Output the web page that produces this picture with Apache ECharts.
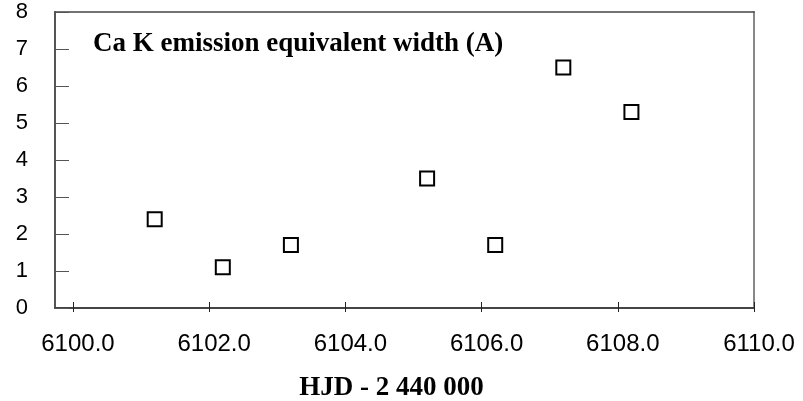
<!DOCTYPE html>
<html>
<head>
<meta charset="utf-8">
<script src="https://cdn.jsdelivr.net/npm/echarts@6/dist/echarts.min.js"></script>
<style>
html, body { margin: 0; padding: 0; background: #fff; }
#main { width: 803px; height: 401px; }
</style>
</head>
<body>
<div id="main"></div>
<script>
var myChart = echarts.init(document.getElementById('main'));

// HJD - 2 440 000
var hjd = [6101.2, 6102.2, 6103.2, 6105.2, 6106.2, 6107.2, 6108.2];
// Ca K emission equivalent width (A)
var eqWidth = [2.4, 1.1, 1.7, 3.5, 1.7, 6.5, 5.3];
var xTicks = [6100, 6102, 6104, 6106, 6108, 6110];

var points = [];
for (var i = 0; i < hjd.length; i++) {
    points.push([hjd[i], eqWidth[i]]);
}

var xMin = 6099.736, xMax = 6110;

option = {
    backgroundColor: '#fff',
    animation: false,
    grid: {
        left: 55,
        right: 49,
        top: 12,
        bottom: 93,
        containLabel: false,
        outerBoundsMode: 'none'
    },
    title: {
        text: 'Ca K emission equivalent width (A)',
        left: 93,
        top: 31,
        padding: 0,
        textStyle: {
            fontFamily: 'Liberation Serif',
            fontWeight: 'bold',
            fontSize: 27,
            color: '#000'
        }
    },
    xAxis: [{
        type: 'value',
        position: 'bottom',
        min: xMin,
        max: xMax,
        name: 'HJD - 2 440 000',
        nameLocation: 'middle',
        nameGap: 67,
        nameTextStyle: {
            fontFamily: 'Liberation Serif',
            fontWeight: 'bold',
            fontSize: 27,
            color: '#000',
            padding: [0, 26, 0, 0]
        },
        splitLine: { show: false },
        axisLine: { lineStyle: { color: '#444', width: 2 } },
        axisTick: {
            inside: true,
            length: 6,
            customValues: xTicks,
            lineStyle: { color: '#222' }
        },
        axisLabel: {
            customValues: xTicks,
            margin: 24,
            padding: [0, 0, 0, 10],
            fontFamily: 'Liberation Sans',
            fontSize: 24,
            color: '#000',
            formatter: function (v) { return v.toFixed(1); }
        }
    }, {
        type: 'value',
        position: 'bottom',
        min: xMin,
        max: xMax,
        splitLine: { show: false },
        axisLine: { show: false },
        axisTick: {
            length: 4,
            customValues: xTicks,
            lineStyle: { color: '#222' }
        },
        axisLabel: { show: false }
    }, {
        type: 'value',
        position: 'top',
        min: xMin,
        max: xMax,
        splitLine: { show: false },
        axisLine: { lineStyle: { color: '#444', width: 1.5 } },
        axisTick: { show: false },
        axisLabel: { show: false }
    }],
    yAxis: [{
        type: 'value',
        position: 'left',
        min: 0,
        max: 8,
        interval: 1,
        splitLine: { show: false },
        axisLine: { lineStyle: { color: '#555', width: 2 } },
        axisTick: {
            inside: true,
            length: 14,
            lineStyle: { color: '#555' }
        },
        axisLabel: {
            margin: 27,
            fontFamily: 'Liberation Sans',
            fontSize: 22,
            color: '#000'
        }
    }, {
        type: 'value',
        position: 'right',
        min: 0,
        max: 8,
        splitLine: { show: false },
        axisLine: { lineStyle: { color: '#888', width: 2 } },
        axisTick: { show: false },
        axisLabel: { show: false }
    }],
    series: [{
        name: 'Ca K',
        type: 'scatter',
        xAxisIndex: 0,
        yAxisIndex: 0,
        data: points,
        symbol: 'rect',
        symbolSize: 14,
        itemStyle: {
            color: '#fff',
            borderColor: '#000',
            borderWidth: 2,
            opacity: 1
        }
    }]
};
myChart.setOption(option);
</script>
</body>
</html>
